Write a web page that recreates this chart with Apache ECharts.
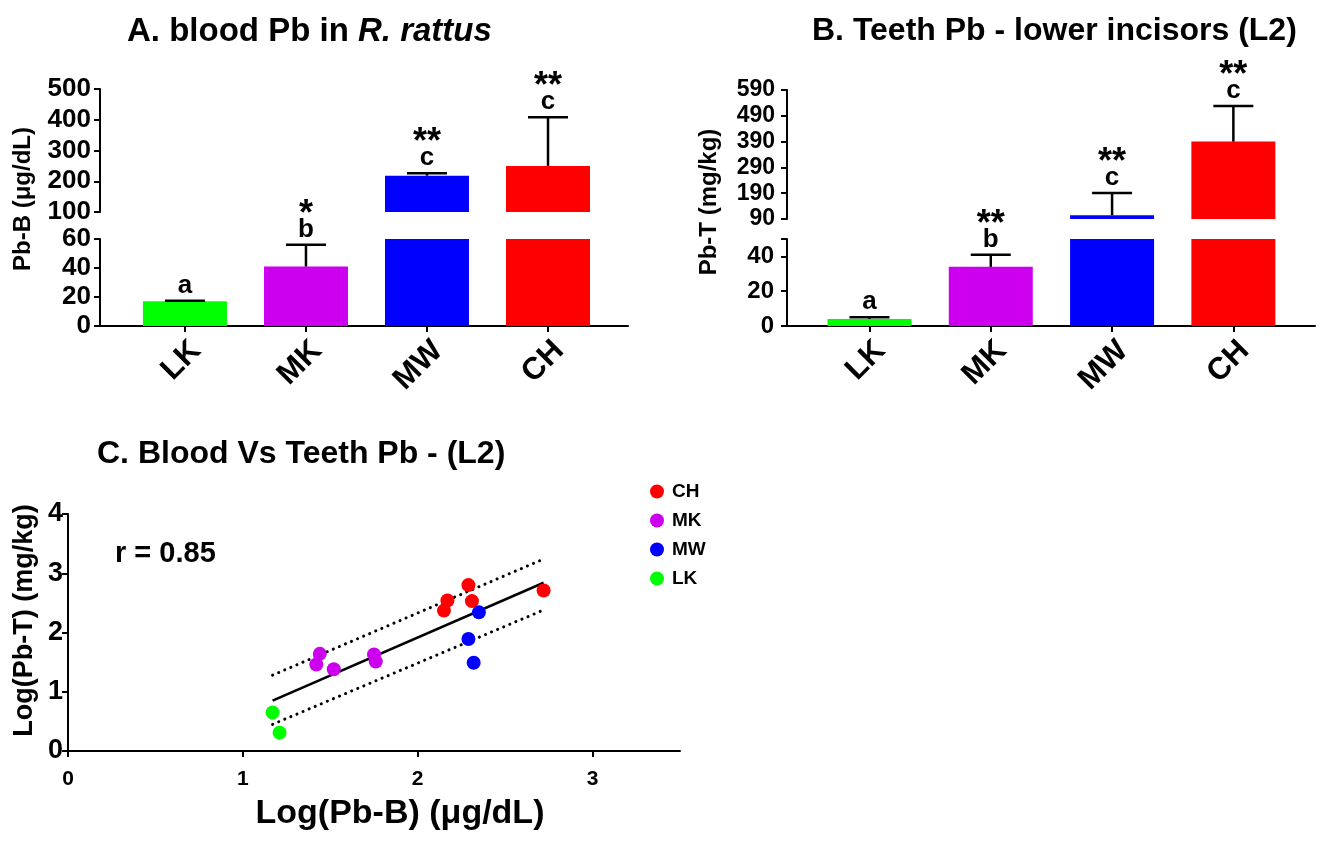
<!DOCTYPE html>
<html><head><meta charset="utf-8">
<script src="https://cdn.jsdelivr.net/npm/echarts@6/dist/echarts.min.js"></script>
<style>html,body{margin:0;padding:0;background:#fff}#c{width:1336px;height:848px}</style>
</head><body><div id="c"></div>
<script>
// ---------- data ----------
const categories = ['LK', 'MK', 'MW', 'CH'];
const barColors = ['#00FF00', '#CC00EE', '#0000FF', '#FF0000'];

const bloodMean = [17, 41, 218, 250];
const bloodErr = [0.5, 15, 8, 158];
const bloodLetters = ['a', 'b', 'c', 'c'];
const bloodStars = ['', '*', '**', '**'];
const bloodLowTicks = [0, 20, 40, 60];
const bloodHighTicks = [100, 200, 300, 400, 500];

const teethMean = [4, 34, 105, 390];
const teethErr = [1, 7, 86, 138];
const teethLetters = ['a', 'b', 'c', 'c'];
const teethStars = ['', '**', '**', '**'];
const teethLowTicks = [0, 20, 40];
const teethLowTickMarks = [0, 20, 40, 50];
const teethHighTicks = [90, 190, 290, 390, 490, 590];

const chX = [2.29, 2.17, 2.31, 2.15, 2.72];
const chY = [2.80, 2.54, 2.53, 2.37, 2.71];
const mkX = [1.44, 1.42, 1.52, 1.75, 1.76];
const mkY = [1.64, 1.46, 1.38, 1.63, 1.51];
const mwX = [2.35, 2.29, 2.32];
const mwY = [2.34, 1.89, 1.49];
const lkX = [1.17, 1.21];
const lkY = [0.65, 0.31];
const fitX = [1.17, 2.72];
const fitY = [0.85, 2.84];
const upperBandY = [1.28, 3.24];
const lowerBandY = [0.45, 2.38];
const scatterXTicks = [0, 1, 2, 3];
const scatterYTicks = [0, 1, 2, 3, 4];
const rText = 'r = 0.85';

// ---------- helpers ----------
const FONT = '"Liberation Sans", Arial, sans-serif';
const BLACK = '#000';

function axisBase() {
  return {
    axisLine: { show: true, onZero: false, lineStyle: { color: BLACK, width: 2 } },
    axisTick: { show: true, length: 6, lineStyle: { color: BLACK, width: 2 } },
    axisLabel: { color: BLACK, fontWeight: 'bold', fontFamily: FONT },
    splitLine: { show: false }
  };
}
function yAx(grid, min, max, ticks, labels, fontSize, margin) {
  const a = axisBase();
  a.gridIndex = grid; a.type = 'value'; a.min = min; a.max = max;
  a.axisTick.customValues = ticks;
  a.axisLabel.customValues = labels;
  a.axisLabel.fontSize = fontSize;
  a.axisLabel.margin = margin;
  return a;
}
function xCat(grid, min, max, show) {
  const a = axisBase();
  a.gridIndex = grid; a.type = 'value'; a.min = min; a.max = max;
  a.show = show;
  a.axisTick.customValues = [0, 1, 2, 3];
  a.axisLabel.customValues = [0, 1, 2, 3];
  a.axisLabel.formatter = v => categories[v];
  a.axisLabel.rotate = 45;
  a.axisLabel.fontSize = 31;
  a.axisLabel.margin = 9;
  a.axisLabel.verticalAlign = 'top';
  return a;
}
function barSeries(xi, yi, means, lo, hi) {
  return {
    type: 'bar', xAxisIndex: xi, yAxisIndex: yi, barWidth: 84, clip: true,
    data: means.map((m, i) => ({
      value: [i, (m >= lo) ? m : '-'],
      itemStyle: { color: barColors[i] }
    })),
    silent: true, z: 2
  };
}
function errSeries(xi, yi, means, errs, letters, stars, keep) {
  const idx = [];
  means.forEach((m, i) => { if (keep(m)) idx.push(i); });
  return {
    type: 'custom', xAxisIndex: xi, yAxisIndex: yi, z: 5, silent: true,
    data: idx.map(i => [i, means[i], errs[i]]),
    renderItem: function (params, api) {
      const i = api.value(0), m = api.value(1), e = api.value(2);
      const p0 = api.coord([i, m]);
      const p1 = api.coord([i, m + e]);
      const hw = 20;
      return {
        type: 'group', children: [
          { type: 'line', shape: { x1: p0[0], y1: p0[1], x2: p1[0], y2: p1[1] }, style: { stroke: BLACK, lineWidth: 2.5 } },
          { type: 'line', shape: { x1: p1[0] - hw, y1: p1[1], x2: p1[0] + hw, y2: p1[1] }, style: { stroke: BLACK, lineWidth: 2.5 } },
          { type: 'text', x: p1[0], y: p1[1] - 15, style: { text: letters[i], fill: BLACK, fontSize: 26, fontWeight: 'bold', fontFamily: FONT, align: 'center', verticalAlign: 'middle' } },
          { type: 'text', x: p1[0], y: p1[1] - 30, style: { text: stars[i], fill: BLACK, fontSize: 36, fontWeight: 'bold', fontFamily: FONT, align: 'center', verticalAlign: 'middle' } }
        ]
      };
    }
  };
}
function pts(xs, ys) { return xs.map((x, i) => [x, ys[i]]); }

// ---------- chart ----------
const chart = echarts.init(document.getElementById('c'), null, { renderer: 'canvas' });

const aMin = -0.702, aMax = 3.661, bMin = -0.680, bMax = 3.673;

const xAxes = [
  xCat(0, aMin, aMax, false),
  xCat(1, aMin, aMax, true),
  xCat(2, bMin, bMax, false),
  xCat(3, bMin, bMax, true)
];
const xC = axisBase();
Object.assign(xC, { gridIndex: 4, type: 'value', min: 0, max: 3.5,
  name: 'Log(Pb-B) (μg/dL)', nameLocation: 'middle', nameGap: 46,
  nameTextStyle: { color: BLACK, fontWeight: 'bold', fontSize: 34, fontFamily: FONT, padding: [0, 0, 0, 52] } });
xC.axisTick.customValues = scatterXTicks;
xC.axisLabel.customValues = scatterXTicks;
xC.axisLabel.fontSize = 21;
xC.axisLabel.margin = 18;
xAxes.push(xC);

const yAxes = [
  yAx(0, 100, 500, bloodHighTicks, bloodHighTicks, 26, 9),
  yAx(1, 0, 60, bloodLowTicks, bloodLowTicks, 26, 9),
  yAx(2, 90, 590, teethHighTicks, teethHighTicks, 23, 12),
  yAx(3, 0, 50, teethLowTickMarks, teethLowTicks, 24, 13),
  yAx(4, 0, 4, scatterYTicks, scatterYTicks, 27, 5)
];
Object.assign(yAxes[4], { name: 'Log(Pb-T) (mg/kg)', nameLocation: 'middle', nameGap: 30, nameRotate: 90,
  nameTextStyle: { color: BLACK, fontWeight: 'bold', fontSize: 27, fontFamily: FONT, padding: [0, 0, 0, 24] } });

const option = {
  backgroundColor: '#fff',
  animation: false,
  title: [
    { text: '{n|A. blood Pb in }{i|R. rattus}', left: 127, top: 15, padding: 0,
      textStyle: { rich: {
        n: { fontSize: 33, fontWeight: 'bold', fontFamily: FONT, color: BLACK },
        i: { fontSize: 33, fontWeight: 'bold', fontStyle: 'italic', fontFamily: FONT, color: BLACK } } } },
    { text: 'B. Teeth Pb - lower incisors (L2)', left: 812, top: 15, padding: 0,
      textStyle: { fontSize: 32, fontWeight: 'bold', fontFamily: FONT, color: BLACK } },
    { text: 'C. Blood Vs Teeth Pb - (L2)', left: 97, top: 438, padding: 0,
      textStyle: { fontSize: 32, fontWeight: 'bold', fontFamily: FONT, color: BLACK } }
  ],
  grid: [
    { left: 100, width: 528, top: 89, height: 123 },
    { left: 100, width: 528, top: 239, height: 87 },
    { left: 787, width: 528, top: 90, height: 129 },
    { left: 787, width: 528, top: 239, height: 87 },
    { left: 68, width: 612, top: 514, height: 237 }
  ],
  xAxis: xAxes,
  yAxis: yAxes,
  legend: {
    data: ['CH', 'MK', 'MW', 'LK'], orient: 'vertical', left: 645, top: 477,
    itemWidth: 14, itemHeight: 14, itemGap: 10, icon: 'circle',
    textStyle: { color: BLACK, fontWeight: 'bold', fontSize: 19, fontFamily: FONT, padding: [0, 0, 0, 3] }
  },
  graphic: [
    { type: 'text', x: 23, y: 199, rotation: Math.PI / 2,
      style: { text: 'Pb-B (μg/dL)', fill: BLACK, fontSize: 24, fontWeight: 'bold', fontFamily: FONT, align: 'center', verticalAlign: 'middle' } },
    { type: 'text', x: 709, y: 202, rotation: Math.PI / 2,
      style: { text: 'Pb-T (mg/kg)', fill: BLACK, fontSize: 24, fontWeight: 'bold', fontFamily: FONT, align: 'center', verticalAlign: 'middle' } },
    { type: 'text', x: 115, y: 554,
      style: { text: rText, fill: BLACK, fontSize: 29, fontWeight: 'bold', fontFamily: FONT, align: 'left', verticalAlign: 'middle' } }
  ],
  series: [
    barSeries(0, 0, bloodMean, 100, 500),
    barSeries(1, 1, bloodMean, 0, 60),
    barSeries(2, 2, teethMean, 90, 590),
    barSeries(3, 3, teethMean, 0, 50),
    errSeries(0, 0, bloodMean, bloodErr, bloodLetters, bloodStars, m => m >= 100),
    errSeries(1, 1, bloodMean, bloodErr, bloodLetters, bloodStars, m => m < 100),
    errSeries(2, 2, teethMean, teethErr, teethLetters, teethStars, m => m >= 90),
    errSeries(3, 3, teethMean, teethErr, teethLetters, teethStars, m => m < 90),
    { type: 'line', xAxisIndex: 4, yAxisIndex: 4, data: pts(fitX, fitY), symbol: 'none', silent: true,
      lineStyle: { color: BLACK, width: 2.5 }, z: 3 },
    { type: 'line', xAxisIndex: 4, yAxisIndex: 4, data: pts(fitX, upperBandY), symbol: 'none', silent: true,
      lineStyle: { color: BLACK, width: 3, type: [0.1, 6.5], cap: 'round' }, z: 3 },
    { type: 'line', xAxisIndex: 4, yAxisIndex: 4, data: pts(fitX, lowerBandY), symbol: 'none', silent: true,
      lineStyle: { color: BLACK, width: 3, type: [0.1, 6.5], cap: 'round' }, z: 3 },
    { name: 'CH', type: 'scatter', xAxisIndex: 4, yAxisIndex: 4, data: pts(chX, chY), symbolSize: 14, itemStyle: { color: '#FF0000', opacity: 1 }, z: 4 },
    { name: 'MK', type: 'scatter', xAxisIndex: 4, yAxisIndex: 4, data: pts(mkX, mkY), symbolSize: 14, itemStyle: { color: '#CC00EE', opacity: 1 }, z: 4 },
    { name: 'MW', type: 'scatter', xAxisIndex: 4, yAxisIndex: 4, data: pts(mwX, mwY), symbolSize: 14, itemStyle: { color: '#0000FF', opacity: 1 }, z: 4 },
    { name: 'LK', type: 'scatter', xAxisIndex: 4, yAxisIndex: 4, data: pts(lkX, lkY), symbolSize: 14, itemStyle: { color: '#00FF00', opacity: 1 }, z: 4 }
  ]
};
chart.setOption(option);
</script>
</body></html>
